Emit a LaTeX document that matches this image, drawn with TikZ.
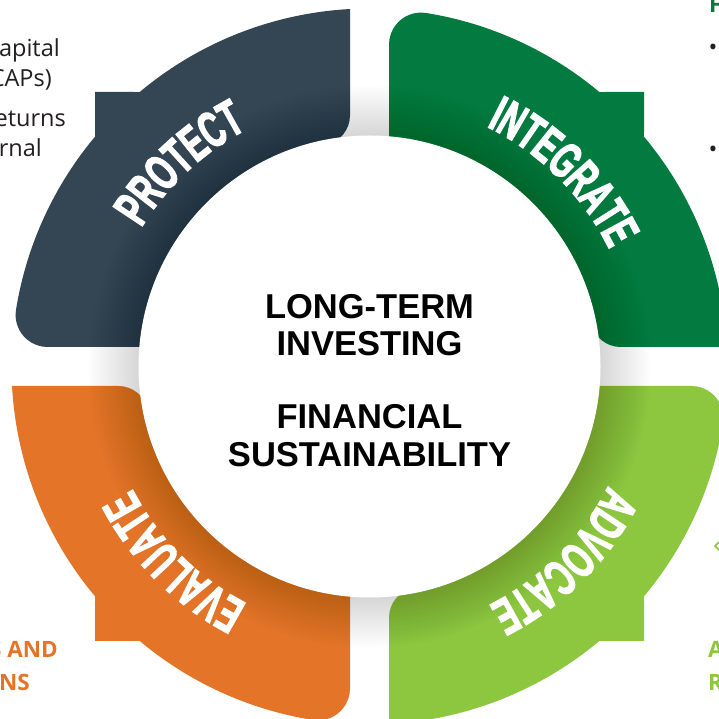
\documentclass[tikz,border=0pt]{standalone}
\usepackage{fontspec}
\setmainfont{Open Sans}
\newfontfamily\labfont[FakeStretch=0.6,FakeBold=2.5,UprightFont={* Bold}]{Liberation Sans}
\newfontfamily\ctrfont{Liberation Sans}
\usetikzlibrary{decorations.text}
\definecolor{cblue}{HTML}{344554}
\definecolor{cgreen}{HTML}{037A3F}
\definecolor{clgreen}{HTML}{8DC63F}
\definecolor{corange}{HTML}{E37428}
\definecolor{ctext}{HTML}{231F20}
\tikzset{
  sidetxt/.style={inner sep=0, text=ctext, font=\fontsize{23.5}{26}\selectfont},
  sidehead/.style={inner sep=0, font=\bfseries\fontsize{22.5}{26}\selectfont},
  ctrtxt/.style={inner sep=0, anchor=base, text=black, font=\ctrfont\bfseries\fontsize{34.5}{36}\selectfont},
  hub/.style={circle, fill=white, minimum size=462pt, inner sep=0},
}
\begin{document}
\begin{tikzpicture}[x=10pt,y=10pt]
\useasboundingbox (0,0) rectangle (71.8,71.9);
\fill[white] (0,0) rectangle (71.8,71.9);
% geometry (units of 10px)
\pgfmathsetmacro\qR{35.8}
\pgfmathsetmacro\qG{1.95}
\pgfmathsetmacro\qRi{22.6}
\pgfmathsetmacro\qS{27.45}
\pgfmathsetmacro\qRo{3.2}
\pgfmathsetmacro\qRt{3.0}
\pgfmathsetmacro\aA{90+asin(\qG/\qR)}
\pgfmathsetmacro\aB{180-asin(\qS/\qR)}
\pgfmathsetmacro\aC{180-acos(\qS/\qR)}
\pgfmathsetmacro\qFy{\qG+\qRo}
\pgfmathsetmacro\qFx{-sqrt((\qR-\qRo)^2-(\qFy)^2)}
\pgfmathsetmacro\aD{atan2(\qFy,\qFx)}
\pgfmathsetmacro\qPx{-sqrt(\qRi^2-\qG^2)}
\pgfmathsetmacro\aE{atan2(\qG,\qPx)}
\pgfmathsetmacro\qTx{-\qG-\qRt}
\pgfmathsetmacro\qTy{sqrt((\qRi+\qRt)^2-(\qTx)^2)}
\pgfmathsetmacro\aF{atan2(\qTy,\qTx)}
\pgfmathsetmacro\aFF{\aF+180}
\tikzset{qshape/.style={insert path={
  (\aA:\qR) arc[start angle=\aA, end angle=\aB, radius=\qR]
  -- (-\qS,\qS) -- (\aC:\qR)
  arc[start angle=\aC, end angle=\aD, radius=\qR]
  arc[start angle=\aD, end angle=270, radius=\qRo]
  -- (\qPx,\qG)
  arc[start angle=\aE, end angle=\aF, radius=\qRi]
  arc[start angle=\aFF, end angle=360, radius=\qRt]
  -- cycle}}}
\begin{scope}[shift={(36.95,35.25)}]
  \foreach \rot/\col in {0/cblue,-90/cgreen,-180/clgreen,-270/corange}{
    \fill[\col, rotate=\rot, qshape];
  }
  % soft shadow round the hub
  \foreach \i in {1,...,20}{
    \fill[black, opacity=0.009] (0,0) circle ({23.1+0.25*\i});
  }
  \node[hub] (hub) at (0,0) {};
  % ring labels
  \foreach \ang/\word in {133/PROTECT,45/INTEGRATE,-45/ADVOCATE,225/EVALUATE}{
    \path[decorate, decoration={text along path,
        text={|\labfont\fontsize{51}{51}\selectfont|\word},
        text align=center, text color=white}]
      (\ang+35:26.7) arc[start angle=\ang+35, end angle=\ang-35, radius=26.7];
  }
  % centre text
  \node[ctrtxt] (l1) at (0,4.75) {LONG-TERM};
  \node[ctrtxt] (l2) at (0,1.1) {INVESTING};
  \node[ctrtxt] (l3) at (0,-6.25) {FINANCIAL};
  \node[ctrtxt] (l4) at (0,-10.05) {SUSTAINABILITY};
\end{scope}
% side texts (cropped by the frame)
\node[sidetxt, anchor=base east] (t1) at (6.0,66.2) {apital};
\node[sidetxt, anchor=base east] (t2) at (5.2,63.2) {CAPs)};
\node[sidetxt, anchor=base east] (t3) at (6.6,59.2) {eturns};
\node[sidetxt, anchor=base east] (t4) at (4.2,56.2) {rnal};
\node[sidehead, text=cgreen, anchor=base west] (h1) at (70.9,70.6) {F};
\node[sidetxt] (b1) at (71.3,66.9) {•};
\node[sidetxt] (b2) at (71.3,56.7) {•};
\node[sidehead, text=corange, anchor=base east] (o1) at (5.8,6.1) {S AND};
\node[sidehead, text=corange, anchor=base east] (o2) at (3.0,2.8) {NS};
\node[sidehead, text=clgreen, anchor=base west] (g1) at (70.8,6.1) {A};
\node[sidehead, text=clgreen, anchor=base west] (g2) at (70.8,2.8) {R};
\draw[clgreen, line width=1.5pt] (71.9,17.7) -- (71.5,17.3) -- (71.9,16.9);
\end{tikzpicture}
\end{document}
